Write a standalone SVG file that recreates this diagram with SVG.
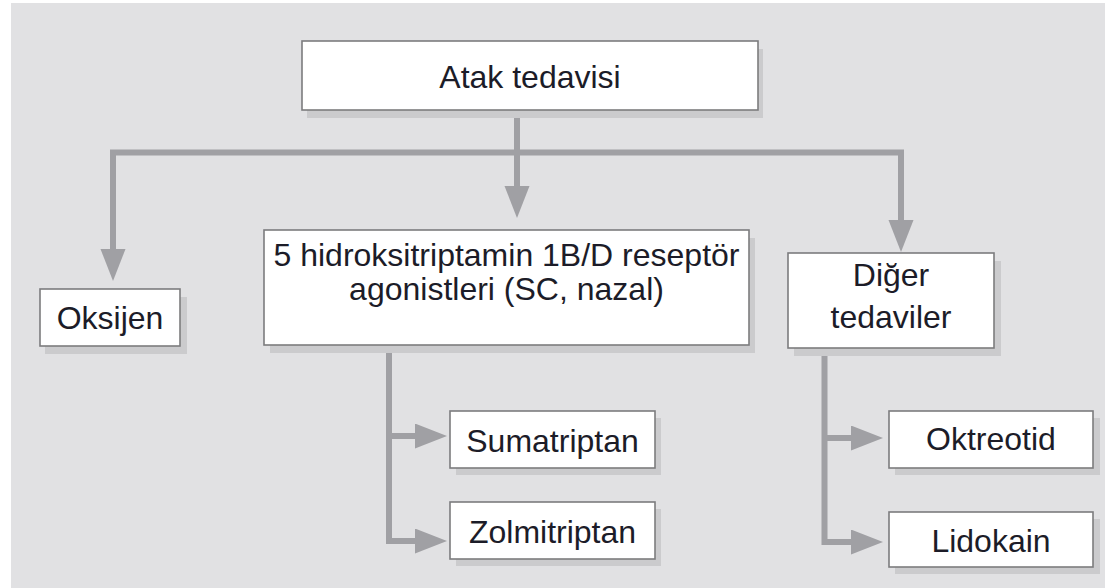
<svg xmlns="http://www.w3.org/2000/svg" width="1105" height="588" viewBox="0 0 1105 588">
  <defs>
    <style>
      .bg { fill: #e1e1e3; }
      .box { fill: #ffffff; stroke: #7c7c7e; stroke-width: 1.6; }
      .shadow { fill: #cbcbcd; }
      .label { font-family: "Liberation Sans", Arial, sans-serif; font-size: 32px; fill: #1c1c28; text-anchor: middle; }
      .wire { fill: none; stroke: #a0a0a4; stroke-width: 6; stroke-linejoin: miter; }
    </style>
    <marker id="head" markerUnits="userSpaceOnUse" markerWidth="34" markerHeight="26" refX="0" refY="12.5" orient="auto-start-reverse">
      <path d="M0,0 L32,12.5 L0,25 Z" fill="#a0a0a4"/>
    </marker>
  </defs>

  <rect x="0" y="0" width="1105" height="588" fill="#ffffff"/>
  <rect class="bg" x="11" y="3" width="1094" height="585"/>

  <!-- connectors -->
  <g id="connectors">
    <path class="wire" d="M517,110 V186" marker-end="url(#head)"/>
    <path class="wire" d="M113,249 V152.5 H901 V220" marker-start="url(#head)" marker-end="url(#head)"/>
    <path class="wire" d="M389,353 V541 H415" marker-end="url(#head)"/>
    <path class="wire" d="M389,436 H415" marker-end="url(#head)"/>
    <path class="wire" d="M824.5,353 V542 H851" marker-end="url(#head)"/>
    <path class="wire" d="M824.5,438 H851" marker-end="url(#head)"/>
  </g>

  <g id="atak">
    <rect class="shadow" x="307" y="49" width="456" height="69"/>
    <rect class="box" x="302" y="41" width="456" height="69"/>
    <text class="label" x="530" y="88">Atak tedavisi</text>
  </g>

  <g id="oksijen">
    <rect class="shadow" x="45" y="297" width="142" height="57"/>
    <rect class="box" x="40" y="289" width="140" height="57"/>
    <text class="label" x="110" y="329">Oksijen</text>
  </g>

  <g id="agonist">
    <rect class="shadow" x="270" y="238" width="485" height="115"/>
    <rect class="box" x="264" y="230" width="485" height="115"/>
    <text class="label" x="506.5" y="266">5 hidroksitriptamin 1B/D reseptör</text>
    <text class="label" x="506.5" y="300">agonistleri (SC, nazal)</text>
  </g>

  <g id="diger">
    <rect class="shadow" x="794" y="261" width="207" height="95"/>
    <rect class="box" x="788" y="253" width="206" height="95"/>
    <text class="label" x="891" y="286">Diğer</text>
    <text class="label" x="891" y="328">tedaviler</text>
  </g>

  <g id="sumatriptan">
    <rect class="shadow" x="456" y="418" width="205" height="57"/>
    <rect class="box" x="450" y="411" width="205" height="57"/>
    <text class="label" x="552.5" y="452">Sumatriptan</text>
  </g>

  <g id="zolmitriptan">
    <rect class="shadow" x="456" y="509" width="205" height="57"/>
    <rect class="box" x="450" y="502" width="205" height="57"/>
    <text class="label" x="552.5" y="543">Zolmitriptan</text>
  </g>

  <g id="oktreotid">
    <rect class="shadow" x="895" y="418" width="205" height="57"/>
    <rect class="box" x="889" y="411" width="204" height="57"/>
    <text class="label" x="991" y="450">Oktreotid</text>
  </g>

  <g id="lidokain">
    <rect class="shadow" x="895" y="519" width="205" height="55"/>
    <rect class="box" x="889" y="512" width="204" height="55"/>
    <text class="label" x="991" y="552">Lidokain</text>
  </g>
</svg>
